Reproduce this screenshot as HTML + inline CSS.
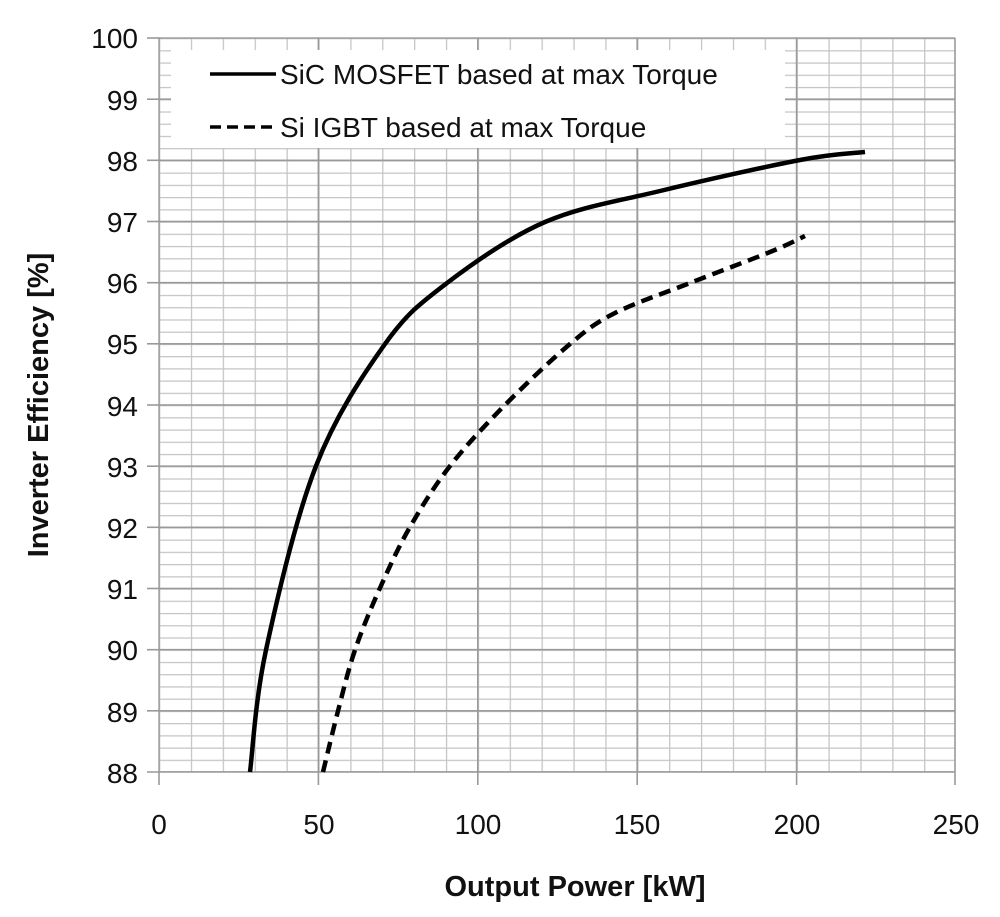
<!DOCTYPE html>
<html><head><style>body{margin:0;background:#fff}</style></head><body>
<svg width="1000" height="912" xmlns="http://www.w3.org/2000/svg" font-family="Liberation Sans, sans-serif">
<defs>
<pattern id="mn" patternUnits="userSpaceOnUse" x="159" y="38" width="31.88" height="12.233">
<line x1="0.6" y1="0" x2="0.6" y2="12.233" stroke="#c4c4c4" stroke-width="1.3"/>
<line x1="0" y1="0.6" x2="31.88" y2="0.6" stroke="#c4c4c4" stroke-width="1.3"/>
</pattern>
<pattern id="mj" patternUnits="userSpaceOnUse" x="158.2" y="37.2" width="159.4" height="61.167">
<line x1="0.8" y1="0" x2="0.8" y2="61.167" stroke="#999" stroke-width="1.6"/>
<line x1="0" y1="0.8" x2="159.4" y2="0.8" stroke="#999" stroke-width="1.6"/>
</pattern>
</defs>
<rect x="159" y="38" width="796" height="734" fill="url(#mn)"/>
<rect x="158.2" y="37.2" width="797" height="735" fill="url(#mj)"/>
<line x1="955" y1="38" x2="955" y2="785" stroke="#999" stroke-width="1.6"/>
<line x1="147" y1="772" x2="955" y2="772" stroke="#999" stroke-width="1.6"/>
<g stroke="#999" stroke-width="1.6">
<line x1="159" y1="772" x2="159" y2="785"/><line x1="318.4" y1="772" x2="318.4" y2="785"/><line x1="477.8" y1="772" x2="477.8" y2="785"/><line x1="637.2" y1="772" x2="637.2" y2="785"/><line x1="796.6" y1="772" x2="796.6" y2="785"/>
<line x1="147" y1="38" x2="159" y2="38"/><line x1="147" y1="99.2" x2="159" y2="99.2"/><line x1="147" y1="160.3" x2="159" y2="160.3"/><line x1="147" y1="221.5" x2="159" y2="221.5"/><line x1="147" y1="282.7" x2="159" y2="282.7"/><line x1="147" y1="343.8" x2="159" y2="343.8"/><line x1="147" y1="405" x2="159" y2="405"/><line x1="147" y1="466.2" x2="159" y2="466.2"/><line x1="147" y1="527.3" x2="159" y2="527.3"/><line x1="147" y1="588.5" x2="159" y2="588.5"/><line x1="147" y1="649.7" x2="159" y2="649.7"/><line x1="147" y1="710.8" x2="159" y2="710.8"/>
</g>
<rect x="171" y="50" width="614" height="98" fill="#fff"/>
<line x1="210" y1="74" x2="276" y2="74" stroke="#000" stroke-width="3.5"/>
<line x1="210" y1="127" x2="276" y2="127" stroke="#000" stroke-width="3.5" stroke-dasharray="11,6"/>
<text x="280" y="84" font-size="28" fill="#111">SiC MOSFET based at max Torque</text>
<text x="280" y="137" font-size="28" fill="#111">Si IGBT based at max Torque</text>
<path d="M250,772 C252.7,751.7 255,701 266,650 C277,599 296.2,517 316,466 C335.8,415 363.2,374.5 385,344 C406.8,313.5 420.3,303.3 447,283 C473.7,262.7 509.5,237.3 545,222 C580.5,206.7 617.5,201.3 660,191 C702.5,180.7 765.8,166.5 800,160 C834.2,153.5 854.2,153.3 865,152" fill="none" stroke="#000" stroke-width="4.5" stroke-linejoin="round"/>
<path d="M323,772 C325.5,761.8 332.7,731.3 338,711 C343.3,690.7 348,670.5 355,650 C362,629.5 370.8,608.5 380,588 C389.2,567.5 398.3,547.3 410,527 C421.7,506.7 434.2,486.3 450,466 C465.8,445.7 485,425.3 505,405 C525,384.7 551.7,359.3 570,344 C588.3,328.7 595,323.2 615,313 C635,302.8 664.2,293.2 690,283 C715.8,272.8 750.8,259.8 770,252 C789.2,244.2 799.2,238.7 805,236" fill="none" stroke="#000" stroke-width="4.5" stroke-dasharray="12,7"/>
<g font-size="28" fill="#111" text-anchor="end">
<text x="138" y="48">100</text><text x="138" y="110">99</text><text x="138" y="171">98</text><text x="138" y="232">97</text><text x="138" y="293">96</text><text x="138" y="354">95</text><text x="138" y="416">94</text><text x="138" y="477">93</text><text x="138" y="538">92</text><text x="138" y="599">91</text><text x="138" y="660">90</text><text x="138" y="722">89</text><text x="138" y="783">88</text>
</g>
<g font-size="28" fill="#111" text-anchor="middle">
<text x="159" y="834">0</text><text x="319" y="834">50</text><text x="478" y="834">100</text><text x="637" y="834">150</text><text x="797" y="834">200</text><text x="956" y="834">250</text>
</g>
<text x="575" y="896" font-size="29" font-weight="bold" text-anchor="middle" fill="#111">Output Power [kW]</text>
<text transform="translate(48,405) rotate(-90)" font-size="29" font-weight="bold" text-anchor="middle" fill="#111">Inverter Efficiency [%]</text>
</svg>
</body></html>
